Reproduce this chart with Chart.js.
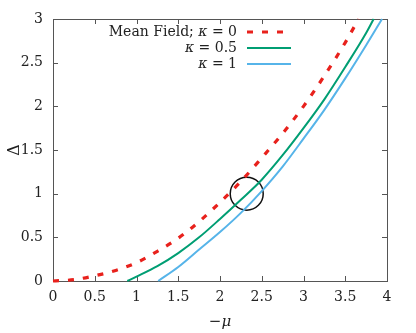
<!DOCTYPE html>
<html><head><meta charset="utf-8">
<script src="https://cdn.jsdelivr.net/npm/chart.js@4"></script>
<style>html,body{margin:0;padding:0;background:#fff}#wrap{width:416px;height:333px}</style>
</head><body>
<div id="wrap"><canvas id="c"></canvas></div>
<script>
const xTicks=[0,0.5,1,1.5,2,2.5,3,3.5,4];
const yTicks=[0,0.5,1,1.5,2,2.5,3];
const mfX=[0,0.25,0.5,0.75,1,1.25,1.5,1.75,2,2.25,2.5,2.75,3,3.25,3.5,3.66];
const mfY=[0,0.015,0.06,0.12,0.21,0.34,0.49,0.68,0.9,1.14,1.41,1.69,2.0,2.35,2.73,3.0];
const k05X=[0.89,1,1.25,1.5,1.75,2,2.25,2.5,2.75,3,3.25,3.5,3.75,3.84];
const k05Y=[0,0.05,0.17,0.32,0.5,0.71,0.93,1.16,1.44,1.75,2.08,2.45,2.84,3.0];
const k1X=[1.26,1.5,1.75,2,2.25,2.5,2.75,3,3.25,3.5,3.75,3.94];
const k1Y=[0,0.16,0.36,0.56,0.78,1.03,1.31,1.63,1.96,2.32,2.7,3.0];
const circleX=[2.32];
const circleY=[1.0];
const seriesLabels=['Mean Field; κ = 0','κ = 0.5','κ = 1'];
const xTitle='−μ';
const yTitle='Δ';

const RED='#e8211c', GREEN='#009e73', BLUE='#56b4e9';
const FONT='"DejaVu Serif", "Liberation Serif", "Times New Roman", serif';
const FS=14;
const DASH=[6,9];
const pts=(xs,ys)=>xs.map((x,i)=>({x:x,y:ys[i]}));

const frame={
  id:'frame',
  beforeDatasetsDraw(chart){
    const {ctx,chartArea:a,scales:{x,y}}=chart;
    ctx.save();
    ctx.strokeStyle='#555';ctx.lineWidth=1;
    ctx.beginPath();
    xTicks.forEach(v=>{const p=Math.round(x.getPixelForValue(v))+0.5;
      ctx.moveTo(p,a.bottom);ctx.lineTo(p,a.bottom-5);ctx.moveTo(p,a.top);ctx.lineTo(p,a.top+5);});
    yTicks.forEach(v=>{const p=Math.round(y.getPixelForValue(v))+0.5;
      ctx.moveTo(a.left,p);ctx.lineTo(a.left+5,p);ctx.moveTo(a.right,p);ctx.lineTo(a.right-5,p);});
    ctx.stroke();
    ctx.strokeRect(Math.round(a.left)+0.5,Math.round(a.top)+0.5,Math.round(a.right-a.left),Math.round(a.bottom-a.top));
    ctx.restore();
  }
};

const legend={
  id:'legendRight',
  afterDatasetsDraw(chart){
    const ctx=chart.ctx;
    const styles=[{c:RED,w:3.2,d:DASH},{c:GREEN,w:2,d:[]},{c:BLUE,w:2,d:[]}];
    const rowsY=[32,48,64];
    const textRight=237, s0=247, s1=291;
    ctx.save();
    ctx.textBaseline='middle';
    seriesLabels.forEach((lab,i)=>{
      const parts=lab.split('κ');
      const segs=[];
      parts.forEach((p,j)=>{ if(p) segs.push({t:p,it:false}); if(j<parts.length-1) segs.push({t:'κ',it:true}); });
      let w=0;
      segs.forEach(s=>{ctx.font=(s.it?'italic ':'')+FS+'px '+FONT; s.w=ctx.measureText(s.t).width; w+=s.w;});
      let xx=textRight-w;
      ctx.fillStyle='#222';
      segs.forEach(s=>{ctx.font=(s.it?'italic ':'')+FS+'px '+FONT; ctx.textAlign='left'; ctx.fillText(s.t,xx,rowsY[i]); xx+=s.w;});
      const st=styles[i];
      ctx.strokeStyle=st.c;ctx.lineWidth=st.w;ctx.setLineDash(st.d);
      ctx.beginPath();ctx.moveTo(s0,rowsY[i]);ctx.lineTo(s1,rowsY[i]);ctx.stroke();
      ctx.setLineDash([]);
    });
    ctx.restore();
  }
};

new Chart(document.getElementById('c'),{
  type:'line',
  data:{datasets:[
    {label:seriesLabels[0],data:pts(mfX,mfY),borderColor:RED,borderWidth:3.2,borderDash:DASH,pointRadius:0,cubicInterpolationMode:'monotone',fill:false,clip:6},
    {label:seriesLabels[1],data:pts(k05X,k05Y),borderColor:GREEN,borderWidth:2,pointRadius:0,cubicInterpolationMode:'monotone',fill:false,clip:6},
    {label:seriesLabels[2],data:pts(k1X,k1Y),borderColor:BLUE,borderWidth:2,pointRadius:0,cubicInterpolationMode:'monotone',fill:false,clip:6},
    {label:'circle',type:'scatter',data:pts(circleX,circleY),showLine:false,pointRadius:16.5,pointHoverRadius:16.5,borderColor:'#111',borderWidth:1.5,backgroundColor:'rgba(0,0,0,0)',clip:false}
  ]},
  options:{
    responsive:true,maintainAspectRatio:false,animation:false,
    layout:{padding:{top:19,right:29,left:0,bottom:0}},
    plugins:{legend:{display:false},tooltip:{enabled:false}},
    scales:{
      x:{type:'linear',min:0,max:4,
        afterFit:s=>{s.height=52;},
        grid:{display:false,drawTicks:false},border:{display:false},
        ticks:{stepSize:0.5,padding:8,color:'#222',font:{family:FONT,size:FS},callback:v=>String(v)},
        title:{display:true,text:xTitle,color:'#222',font:{family:FONT,size:FS+1,style:'italic'},padding:{top:0,bottom:2}}},
      y:{type:'linear',min:0,max:3,
        afterFit:s=>{s.width=53;},
        grid:{display:false,drawTicks:false},border:{display:false},
        ticks:{stepSize:0.5,padding:10,color:'#222',font:{family:FONT,size:FS},callback:v=>String(v)},
        title:{display:true,text:yTitle,color:'#222',font:{family:FONT,size:FS+2},padding:{top:5,bottom:0}}}
    }
  },
  plugins:[frame,legend]
});
</script>
</body></html>
